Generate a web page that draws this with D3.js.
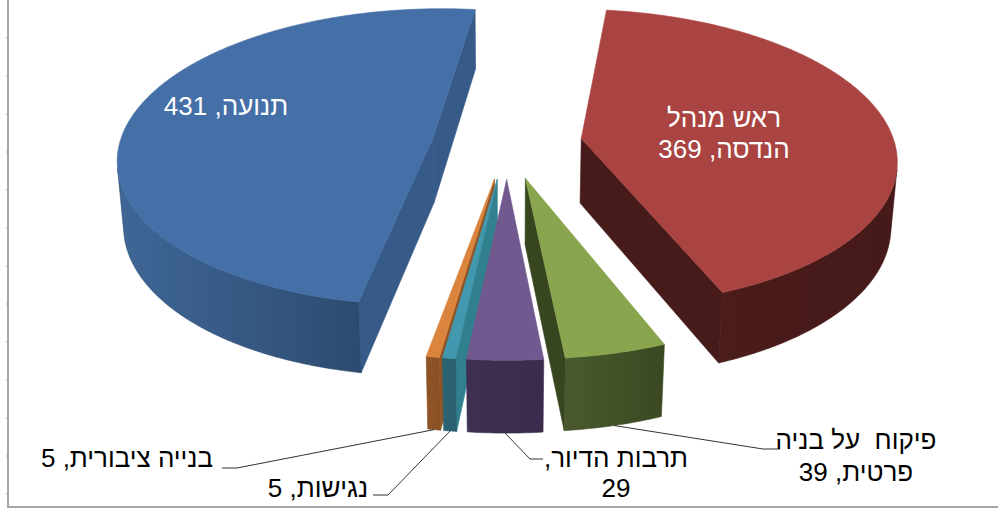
<!DOCTYPE html>
<html>
<head>
<meta charset="utf-8">
<script src="https://cdn.jsdelivr.net/npm/d3@7"></script>
<style>
  html, body { margin: 0; padding: 0; background: #fff; }
  svg { display: block; font-family: "Liberation Sans", Arial, sans-serif; }
</style>
</head>
<body>
<svg id="chart" width="998" height="509"></svg>
<script>
// Departments and number of items per department
const categories = ["ראש מנהל הנדסה", "פיקוח  על בניה פרטית", "תרבות הדיור", "נגישות", "בנייה ציבורית", "תנועה"];
const values = [369, 39, 29, 5, 5, 431];

// Palette: top face, side (left -> right shade), radial wall
const topColors  = ["#A94442", "#89A54E", "#71588F", "#4198AF", "#DB843D", "#4570A7"];
const sideColors = [["#4a1c1a", "#451a19"], ["#4a5a2e", "#3a4922"], ["#3f3053", "#3a2b4c"],
                    ["#2b6473", "#29606f"], ["#8f5426", "#8a5024"], ["#3f6797", "#2d4b70"]];
const wallColors = ["#471b1a", "#37461f", "#3d2e50", "#31808f", "#8f5426", "#365b88"];

const svg = d3.select("#chart");
const W = 998;

// ---- frame on the left and bottom ----
const frame = svg.append("g");
frame.selectAll("line.tick").data(d3.range(38, 500, 38)).join("line")
  .attr("x1", 5).attr("x2", 8).attr("y1", d => d).attr("y2", d => d)
  .attr("stroke", "#cfcfcf").attr("stroke-width", 1);
frame.append("line").attr("x1", 8).attr("x2", 8).attr("y1", 0).attr("y2", 507.5)
  .attr("stroke", "#a6a6a6").attr("stroke-width", 2);
frame.append("line").attr("x1", 7).attr("x2", W).attr("y1", 507).attr("y2", 507)
  .attr("stroke", "#a6a6a6").attr("stroke-width", 2);

// ---- 3D perspective projection of a unit-radius pie ----
const tilt = 28 * Math.PI / 180;
const camDist = 6.8, focal = 2130, cx = 507, cy = 143;
const thickness = 0.238, explode = 0.24, firstAngle = 7 * Math.PI / 180;
const sinT = Math.sin(tilt), cosT = Math.cos(tilt);
const cam = [0, camDist * sinT, camDist * cosT];

function project([X, Y, Z]) {
  const yc = Y * cosT - Z * sinT;
  const zc = camDist - Y * sinT - Z * cosT;
  return [cx + focal * X / zc, cy - focal * yc / zc];
}
function depth([X, Y, Z]) { return camDist - Y * sinT - Z * cosT; }
function facing(normal, p) {
  return normal[0] * (cam[0] - p[0]) + normal[1] * (cam[1] - p[1]) + normal[2] * (cam[2] - p[2]) > 0;
}
const closedLine = d3.line().curve(d3.curveLinearClosed);
const defs = svg.append("defs");

const arcs = d3.pie().sort(null)
  .startAngle(firstAngle).endAngle(firstAngle + 2 * Math.PI)(values);

const slices = arcs.map((a, i) => {
  const a0 = a.startAngle, a1 = a.endAngle, m = (a0 + a1) / 2;
  const ox = explode * Math.sin(m), oz = -explode * Math.cos(m);
  const rim = (t, y) => [ox + Math.sin(t), y, oz - Math.cos(t)];
  const apex = y => [ox, y, oz];
  const n = Math.max(2, Math.ceil((a1 - a0) / (Math.PI / 360)));
  const ts = d3.range(n + 1).map(k => a0 + (a1 - a0) * k / n);
  const faces = [];

  // radial walls
  const wallA = [apex(0), rim(a0, 0), rim(a0, -thickness), apex(-thickness)];
  const wallB = [apex(0), rim(a1, 0), rim(a1, -thickness), apex(-thickness)];
  const mid = pts => [0, 1, 2].map(c => d3.mean(pts, p => p[c]));
  if (facing([-Math.cos(a0), 0, -Math.sin(a0)], mid(wallA)))
    faces.push({ pts: wallA.map(project), fill: wallColors[i] });
  if (facing([Math.cos(a1), 0, Math.sin(a1)], mid(wallB)))
    faces.push({ pts: wallB.map(project), fill: wallColors[i] });

  // curved outer side, split into the runs that face the camera
  let run = [];
  const runs = [];
  for (let k = 0; k < n; k++) {
    const tm = (ts[k] + ts[k + 1]) / 2;
    const vis = facing([Math.sin(tm), 0, -Math.cos(tm)], rim(tm, -thickness / 2));
    if (vis) { if (!run.length) run.push(ts[k]); run.push(ts[k + 1]); }
    else if (run.length) { runs.push(run); run = []; }
  }
  if (run.length) runs.push(run);
  runs.forEach((r, j) => {
    const pts = r.map(t => project(rim(t, 0)))
      .concat(r.slice().reverse().map(t => project(rim(t, -thickness))));
    const xs = d3.extent(pts, p => p[0]);
    const id = `side-${i}-${j}`;
    const g = defs.append("linearGradient").attr("id", id)
      .attr("gradientUnits", "userSpaceOnUse")
      .attr("x1", xs[0]).attr("x2", xs[1]).attr("y1", 0).attr("y2", 0);
    g.append("stop").attr("offset", 0).attr("stop-color", sideColors[i][0]);
    g.append("stop").attr("offset", 1).attr("stop-color", sideColors[i][1]);
    faces.push({ pts, fill: `url(#${id})`, seam: sideColors[i][1] });
  });

  // top face
  const top = [apex(0)].concat(ts.map(t => rim(t, 0))).map(project);
  faces.push({ pts: top, fill: topColors[i] });

  const centre = [ox + 0.6 * Math.sin(m), -thickness / 2, oz - 0.6 * Math.cos(m)];
  return {
    i, faces, dist: depth(centre),
    anchor: project(rim(m, -thickness))
  };
});

// paint far slices first
const pie = svg.append("g");
slices.slice().sort((p, q) => q.dist - p.dist).forEach(s => {
  const g = pie.append("g");
  s.faces.forEach(f => {
    g.append("path").attr("d", closedLine(f.pts))
      .attr("fill", f.fill)
      .attr("stroke", f.seam || f.fill).attr("stroke-width", 0.6)
      .attr("stroke-linejoin", "round");
  });
});

// ---- data labels ----
const labelLayout = [
  { x: 724, y: 127, lh: 31, brk: 2, color: "#fff" },
  { x: 856, y: 449, lh: 32, brk: 4, color: "#000", elbow: [[763, 449], [780, 449]] },
  { x: 616, y: 467, lh: 30, brk: 2, color: "#000", elbow: [[530, 459], [543, 459]] },
  { x: 318, y: 497, lh: 30, brk: 9, color: "#000", elbow: [[388, 495], [373, 495]] },
  { x: 127, y: 467, lh: 30, brk: 9, color: "#000", elbow: [[237, 468], [222, 468]] },
  { x: 226, y: 115, lh: 30, brk: 9, color: "#fff" }
];

const labels = svg.append("g");
slices.forEach(s => {
  const L = labelLayout[s.i];
  const words = `${categories[s.i]}, ${values[s.i]}`.split(" ");
  const lines = [words.slice(0, L.brk).join(" "), words.slice(L.brk).join(" ")].filter(d => d.length);
  if (L.elbow) {
    labels.append("path")
      .attr("d", d3.line()([s.anchor, ...L.elbow]))
      .attr("fill", "none").attr("stroke", "#333").attr("stroke-width", 1);
  }
  const t = labels.append("text")
    .attr("text-anchor", "middle").attr("direction", "rtl")
    .style("direction", "rtl").style("unicode-bidi", "embed")
    .style("white-space", "pre")
    .attr("font-size", 26).attr("fill", L.color);
  lines.forEach((ln, k) => {
    t.append("tspan").attr("x", L.x).attr("y", L.y + k * L.lh).text(ln);
  });
});
</script>
</body>
</html>
